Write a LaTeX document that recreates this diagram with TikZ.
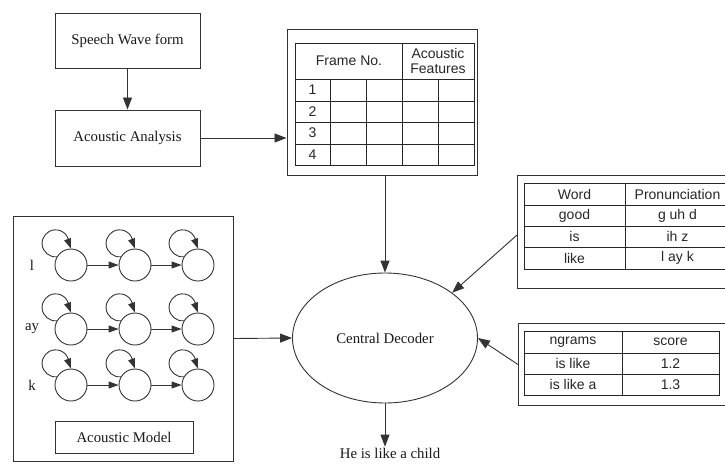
\documentclass[tikz,border=0pt]{standalone}
\usepackage{fontspec}
\setmainfont{Liberation Serif}
\newfontfamily\tabfont{Liberation Sans}
\usetikzlibrary{shapes.geometric,arrows.meta}
\begin{document}
\begin{tikzpicture}[x=1pt,y=1pt,
  line/.style={draw=black!80, line width=0.9pt},
  box/.style={draw=black!80, line width=1pt, rectangle, inner sep=0pt},
  lbl/.style={font=\fontsize{14.8}{16}\selectfont, text=black!90},
  tab/.style={font=\tabfont\fontsize{14}{15.5}\selectfont, text=black!85, inner sep=0pt},
  grid/.style={draw=black!85, line width=1pt},
  arr/.style={line, -{Triangle[length=12pt,width=9pt]}},
  sarr/.style={line, -{Triangle[length=10pt,width=7pt]}},
  state/.style={circle, draw=black!80, line width=0.9pt, fill=white, minimum size=32pt, inner sep=0pt},
]
\useasboundingbox (0,0) rectangle (725,-463);
\clip (0,0) rectangle (725,-463);

% speech pipeline
\node[box, minimum width=145pt, minimum height=55pt, lbl] (swf) at (127.5,-40.5) {Speech Wave form};
\node[box, minimum width=145pt, minimum height=56pt, lbl] (aa) at (127.5,-138) {Acoustic Analysis};
\draw[arr] (swf) -- (aa);

% frame table
\node[box, minimum width=190pt, minimum height=146pt] (ft) at (382,-102) {};
\draw[grid] (295,-43) rectangle (474,-165);
\foreach \y in {79,101,122,144} \draw[grid] (295,-\y) -- (474,-\y);
\draw[grid] (402,-43) -- (402,-165);
\foreach \x in {330,366,438} \draw[grid] (\x,-79) -- (\x,-165);
\node[tab] (fh1) at (349,-61) {Frame No.};
\node[tab, align=center] (fh2) at (438,-61) {Acoustic\\Features};
\node[tab] (fn1) at (312.5,-90) {1};
\node[tab] (fn2) at (312.5,-111.5) {2};
\node[tab] (fn3) at (312.5,-133) {3};
\node[tab] (fn4) at (312.5,-154.5) {4};
\draw[arr] (aa.east) -- (aa.east -| ft.west);

% central decoder
\node[ellipse, draw=black!80, line width=0.9pt, minimum width=185pt, minimum height=130pt, inner sep=0pt, lbl] (dec) at (385,-338) {Central Decoder};
\draw[arr] (ft.south -| dec.north) -- (dec.north);

% pronunciation table
\node[box, minimum width=220pt, minimum height=113pt, anchor=north west] (pron) at (517,-175) {};
\draw[grid] (524,-183) rectangle (735,-269);
\foreach \y in {205,226,247} \draw[grid] (524,-\y) -- (735,-\y);
\draw[grid] (625,-183) -- (625,-269);
\node[tab] (pw0) at (574.5,-194) {Word};
\node[tab] (pp0) at (677.5,-194) {Pronunciation};
\node[tab] (pw1) at (574.5,-215.5) {good};
\node[tab] (pp1) at (677.5,-215.5) {g uh d};
\node[tab] (pw2) at (574.5,-236.5) {is};
\node[tab] (pp2) at (677.5,-236.5) {ih z};
\node[tab] (pw3) at (574.5,-258) {like};
\node[tab] (pp3) at (677.5,-258) {l ay k};
\draw[arr] ([yshift=-3pt]pron.west) -- (dec.34);

% ngram table
\node[box, minimum width=215pt, minimum height=82pt, anchor=north west] (ng) at (518,-323) {};
\draw[grid] (524,-331) rectangle (719,-395);
\foreach \y in {353,374} \draw[grid] (524,-\y) -- (719,-\y);
\draw[grid] (622,-331) -- (622,-395);
\node[tab] (ng0) at (573,-342) {ngrams};
\node[tab] (sc0) at (670.5,-342) {score};
\node[tab] (ng1) at (573,-363.5) {is like};
\node[tab] (sc1) at (670.5,-363.5) {1.2};
\node[tab] (ng2) at (573,-384.5) {is like a};
\node[tab] (sc2) at (670.5,-384.5) {1.3};
\draw[arr] (ng.west) -- (dec.east);

% acoustic model
\node[box, minimum width=220pt, minimum height=245pt] (am) at (123,-338.5) {};
\node[box, minimum width=138pt, minimum height=32pt, lbl] (aml) at (124,-437) {Acoustic Model};
\foreach \r/\y/\t in {1/265/l, 2/329/ay, 3/385/k} {
  \node[lbl] (lab\r) at (32,-\y) {\t};
  \foreach \c/\x in {1/71,2/135,3/198} {
    \node[state] (s\r\c) at (\x,-\y) {};
    \draw[sarr] (s\r\c.150) arc[start angle=275, end angle=0, radius=13.5pt] -- (s\r\c.north);
  }
  \draw[sarr] (s\r1) -- (s\r2);
  \draw[sarr] (s\r2) -- (s\r3);
}
\draw[arr] (am.east) -- (dec.west);

% output
\node[lbl, inner sep=1pt] (out) at (390,-453) {He is like a child};
\draw[arr] (dec.south) -- (dec.south |- out.north);
\end{tikzpicture}
\end{document}
